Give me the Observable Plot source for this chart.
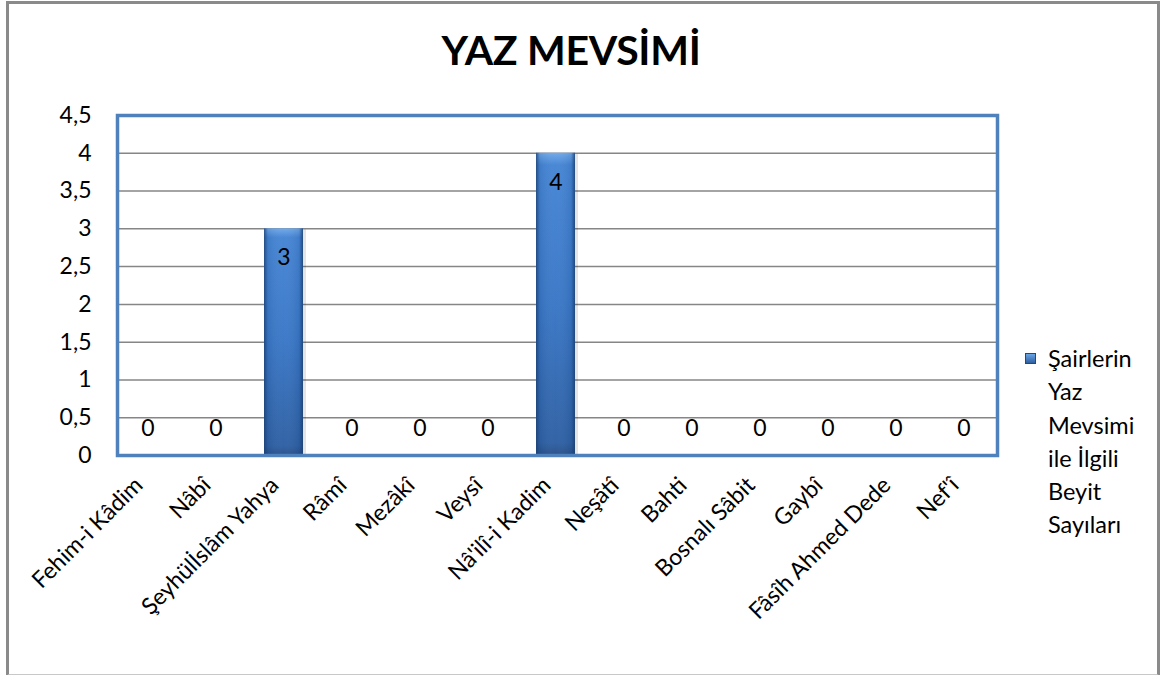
<!DOCTYPE html>
<html>
<head>
<meta charset="utf-8">
<script src="https://cdn.jsdelivr.net/npm/d3@7"></script>
<script src="https://cdn.jsdelivr.net/npm/@observablehq/plot@0.6"></script>
<style>
  html, body { margin: 0; padding: 0; background: #fff; }
  #page { position: relative; width: 1162px; height: 675px; overflow: hidden; font-family: Lato, "Open Sans", sans-serif; }
  #border { position: absolute; left: 6px; top: 1px; width: 1148px; height: 670px; border: 3px solid #8a8a8a; border-bottom: 2px solid #c8c8c8; border-right: 3px solid #8a8a8a; }
  #title { position: absolute; left: 0; width: 1142px; top: 25px; text-align: center; font-weight: 700; font-size: 41px; color: #000; letter-spacing: -0.3px; }
  #chart { position: absolute; left: 0; top: 0; }
  #legend { position: absolute; left: 1025px; top: 343px; font-size: 23.5px; color: #000; }
  #legend .row { height: 33.3px; line-height: 30px; padding-left: 23px; position: relative; white-space: nowrap; }
  #legend .sw { position: absolute; left: 0; top: 10px; width: 9px; height: 9px; background: linear-gradient(#6aa5e8, #2f5f9f); border: 1px solid #1f4a80; }
</style>
</head>
<body>
<div id="page">
  <div id="border"></div>
  <div id="title">YAZ MEVSİMİ</div>
  <div id="chart"></div>
  <div id="legend"></div>
</div>
<script>
const poets = ["Fehim-i Kâdim", "Nâbî", "Şeyhülİslâm Yahya", "Râmî", "Mezâkî", "Veysî", "Nâ'ilî-i Kadim", "Neşâtî", "Bahti", "Bosnalı Sâbit", "Gaybî", "Fâsîh Ahmed Dede", "Nef'î"];
const counts = [0, 0, 3, 0, 0, 0, 4, 0, 0, 0, 0, 0, 0];
const yTicks = [0, 0.5, 1, 1.5, 2, 2.5, 3, 3.5, 4, 4.5];
const seriesName = "Şairlerin Yaz Mevsimi ile İlgili Beyit Sayıları";
const legendLines = ["Şairlerin", "Yaz", "Mevsimi", "ile İlgili", "Beyit", "Sayıları"];

const data = poets.map((p, i) => ({poet: p, value: counts[i]}));
const gridTicks = yTicks.filter(t => t > 0 && t < 4.5);

const chart = Plot.plot({
  width: 1162,
  height: 675,
  marginLeft: 117,
  marginRight: 165,
  marginTop: 115,
  marginBottom: 220,
  style: {fontFamily: "Lato, 'Open Sans', sans-serif", fontSize: "22px", color: "#000", background: "transparent"},
  x: {domain: poets, range: [114, 998], paddingInner: 0.42, paddingOuter: 0.21, label: null},
  y: {domain: [0, 4.5], label: null},
  marks: [
    Plot.ruleY(gridTicks, {stroke: "#868686", strokeWidth: 1.5}),
    Plot.barY(data.filter(d => d.value > 0), {x: "poet", y: "value", fill: "#000", fillOpacity: 0.1, dx: 3, dy: 1}),
    Plot.barY(data, {x: "poet", y: "value", fill: "url(#barV)"}),
    Plot.barY(data, {x: "poet", y: "value", fill: "url(#barH)"}),
    Plot.axisY({ticks: yTicks, tickSize: 0, tickPadding: 26, tickFormat: d => String(d).replace(".", ","), fontSize: 23}),
    Plot.axisX({tickSize: 0, tickRotate: -45, tickPadding: 26, dx: -9, fontSize: 23}),
    Plot.text(data.filter(d => d.value > 0), {x: "poet", y: "value", text: d => String(d.value), dy: 29, fontSize: 23}),
    Plot.text(data.filter(d => d.value === 0), {x: "poet", y: "value", text: d => String(d.value), dy: -27, fontSize: 23}),
    Plot.frame({stroke: "#4f81bd", strokeWidth: 3.5})
  ]
});

const svg = d3.select(chart);
const defs = svg.insert("defs", ":first-child");
const gv = defs.append("linearGradient").attr("id", "barV").attr("x1", 0).attr("y1", 0).attr("x2", 0).attr("y2", 1);
gv.append("stop").attr("offset", "0%").attr("stop-color", "#6fa8ea");
gv.append("stop").attr("offset", "4%").attr("stop-color", "#4484d4");
gv.append("stop").attr("offset", "50%").attr("stop-color", "#3876c6");
gv.append("stop").attr("offset", "96%").attr("stop-color", "#2d5fa3");
gv.append("stop").attr("offset", "100%").attr("stop-color", "#264f88");
const gh = defs.append("linearGradient").attr("id", "barH").attr("x1", 0).attr("y1", 0).attr("x2", 1).attr("y2", 0);
gh.append("stop").attr("offset", "0%").attr("stop-color", "#1c3f70").attr("stop-opacity", 0.8);
gh.append("stop").attr("offset", "10%").attr("stop-color", "#1c3f70").attr("stop-opacity", 0.12);
gh.append("stop").attr("offset", "50%").attr("stop-color", "#ffffff").attr("stop-opacity", 0.03);
gh.append("stop").attr("offset", "90%").attr("stop-color", "#1c3f70").attr("stop-opacity", 0.12);
gh.append("stop").attr("offset", "100%").attr("stop-color", "#1c3f70").attr("stop-opacity", 0.85);

document.getElementById("chart").append(chart);

const legend = document.getElementById("legend");
legend.title = seriesName;
legendLines.forEach((line, i) => {
  const row = document.createElement("div");
  row.className = "row";
  if (i === 0) {
    const sw = document.createElement("span");
    sw.className = "sw";
    row.append(sw);
  }
  row.append(document.createTextNode(line));
  legend.append(row);
});
</script>
</body>
</html>
